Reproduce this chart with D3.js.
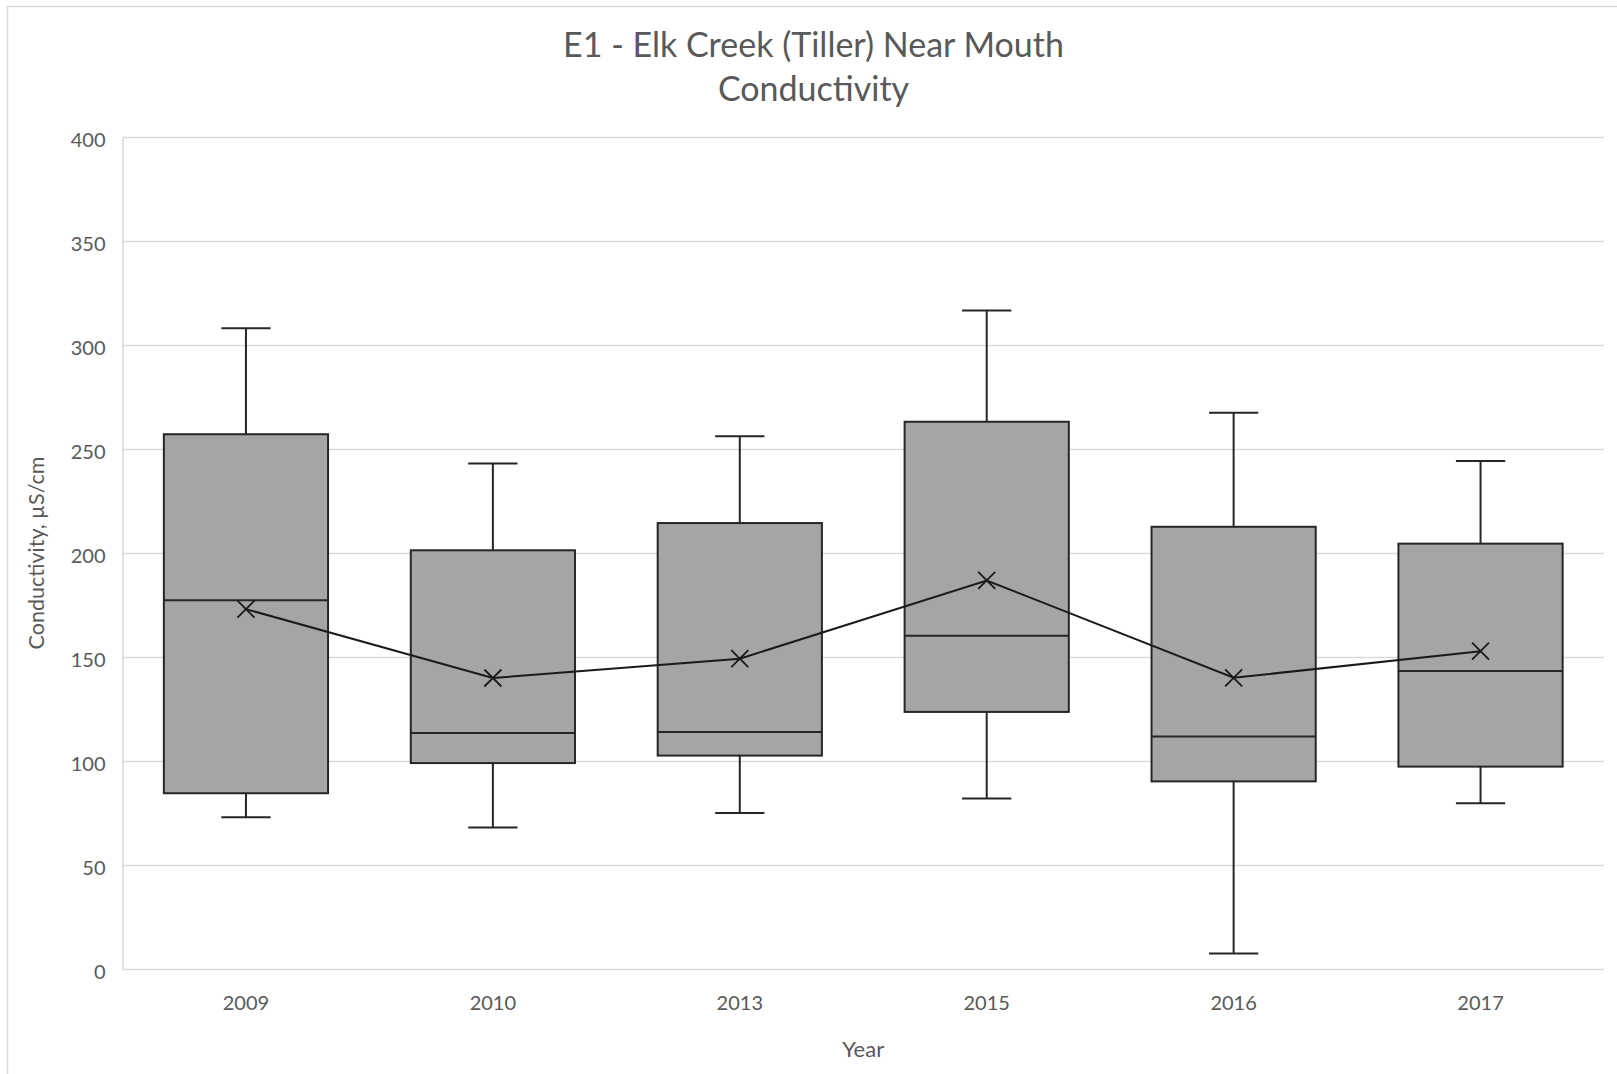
<!DOCTYPE html>
<html>
<head>
<meta charset="utf-8">
<script src="https://cdn.jsdelivr.net/npm/d3@7"></script>
<style>
  html, body { margin: 0; padding: 0; background: #fff; }
  svg { display: block; }
  text { font-family: Lato, "Open Sans", "Liberation Sans", sans-serif; fill: #595959; }
</style>
</head>
<body>
<svg id="chart" width="1617" height="1074"></svg>
<script>
// Yearly conductivity summary (µS/cm) for station E1 - Elk Creek (Tiller) Near Mouth
const years   = ["2009", "2010", "2013", "2015", "2016", "2017"];
const minVals = [73.0, 68.0, 75.0, 82.0, 7.5, 79.7];
const q1Vals  = [84.5, 99.0, 102.6, 123.6, 90.2, 97.3];
const medVals = [177.3, 113.5, 113.9, 160.2, 111.8, 143.3];
const q3Vals  = [257.1, 201.3, 214.4, 263.1, 212.6, 204.5];
const maxVals = [308.0, 243.0, 256.1, 316.6, 267.4, 244.2];
const meanVals = [173.0, 139.9, 149.2, 186.8, 140.0, 152.8];
const yTicks  = [0, 50, 100, 150, 200, 250, 300, 350, 400];

const titleLines = ["E1 - Elk Creek (Tiller) Near Mouth", "Conductivity"];
const yTitle = "Conductivity, µS/cm";
const xTitle = "Year";

const rows = years.map((y, i) => ({
  year: y, min: minVals[i], q1: q1Vals[i], med: medVals[i],
  q3: q3Vals[i], max: maxVals[i], mean: meanVals[i]
}));

const svg = d3.select("#chart");
const plot = { left: 122.5, right: 1604, top: 137, bottom: 969 };

const x = d3.scaleBand()
  .domain(years)
  .range([plot.left, plot.right])
  .paddingInner(0.335)
  .paddingOuter(0.1675);

const y = d3.scaleLinear()
  .domain([0, 400])
  .range([plot.bottom, plot.top]);

const gridColor = "#d9d9d9";
const ink = "#262626";

// Chart frame
svg.append("rect")
  .attr("x", 7.5).attr("y", 6.5)
  .attr("width", 1625).attr("height", 1090)
  .attr("fill", "none")
  .attr("stroke", gridColor)
  .attr("stroke-width", 1.5);

// Value axis with horizontal gridlines
const yAxis = svg.append("g")
  .attr("transform", `translate(${plot.left},0)`)
  .call(d3.axisLeft(y)
    .tickValues(yTicks)
    .tickSize(-(plot.right - plot.left))
    .tickSizeOuter(0)
    .tickPadding(17));
yAxis.select(".domain").attr("stroke", gridColor).attr("stroke-width", 1.5);
yAxis.selectAll(".tick line").attr("stroke", gridColor).attr("stroke-width", 1.5);
yAxis.selectAll(".tick text")
  .attr("dy", "0.45em")
  .style("font-size", "20px")
  .attr("fill", "#595959");

// Category axis labels
const xAxis = svg.append("g")
  .attr("transform", `translate(0,${plot.bottom})`)
  .call(d3.axisBottom(x).tickSize(0).tickPadding(27));
xAxis.select(".domain").remove();
xAxis.selectAll(".tick text")
  .attr("dy", "0.71em")
  .style("font-size", "20px")
  .attr("fill", "#595959");

const cx = d => x(d.year) + x.bandwidth() / 2;
const capHalf = x.bandwidth() * 0.15;

const boxes = svg.append("g").selectAll("g.box")
  .data(rows)
  .join("g")
  .attr("class", "box");

// Whiskers
boxes.append("line")
  .attr("x1", cx).attr("x2", cx)
  .attr("y1", d => y(d.max)).attr("y2", d => y(d.q3))
  .attr("stroke", ink).attr("stroke-width", 2);
boxes.append("line")
  .attr("x1", cx).attr("x2", cx)
  .attr("y1", d => y(d.q1)).attr("y2", d => y(d.min))
  .attr("stroke", ink).attr("stroke-width", 2);
boxes.append("line")
  .attr("x1", d => cx(d) - capHalf).attr("x2", d => cx(d) + capHalf)
  .attr("y1", d => y(d.max)).attr("y2", d => y(d.max))
  .attr("stroke", ink).attr("stroke-width", 2);
boxes.append("line")
  .attr("x1", d => cx(d) - capHalf).attr("x2", d => cx(d) + capHalf)
  .attr("y1", d => y(d.min)).attr("y2", d => y(d.min))
  .attr("stroke", ink).attr("stroke-width", 2);

// Interquartile boxes
boxes.append("rect")
  .attr("x", d => x(d.year))
  .attr("width", x.bandwidth())
  .attr("y", d => y(d.q3))
  .attr("height", d => y(d.q1) - y(d.q3))
  .attr("fill", "#a5a5a5")
  .attr("stroke", ink)
  .attr("stroke-width", 2);

// Medians
boxes.append("line")
  .attr("x1", d => x(d.year)).attr("x2", d => x(d.year) + x.bandwidth())
  .attr("y1", d => y(d.med)).attr("y2", d => y(d.med))
  .attr("stroke", ink).attr("stroke-width", 2);

// Mean line
svg.append("path")
  .datum(rows)
  .attr("fill", "none")
  .attr("stroke", "#1a1a1a")
  .attr("stroke-width", 2)
  .attr("d", d3.line().x(cx).y(d => y(d.mean)));

// Mean markers (x)
const m = 8.5;
svg.append("g").selectAll("path.mean")
  .data(rows)
  .join("path")
  .attr("class", "mean")
  .attr("fill", "none")
  .attr("stroke", "#1a1a1a")
  .attr("stroke-width", 1.8)
  .attr("d", d => {
    const px = cx(d), py = y(d.mean);
    return `M${px - m},${py - m}L${px + m},${py + m}M${px - m},${py + m}L${px + m},${py - m}`;
  });

// Titles
const title = svg.append("text")
  .attr("x", 813.5)
  .attr("text-anchor", "middle")
  .style("font-size", "34px");
title.selectAll("tspan")
  .data(titleLines)
  .join("tspan")
  .attr("x", 813.5)
  .attr("y", (d, i) => 57 + i * 44)
  .text(d => d);

svg.append("text")
  .attr("transform", `translate(44,553) rotate(-90)`)
  .attr("text-anchor", "middle")
  .style("font-size", "21.5px")
  .text(yTitle);

svg.append("text")
  .attr("x", (plot.left + plot.right) / 2)
  .attr("y", 1057)
  .attr("text-anchor", "middle")
  .style("font-size", "22px")
  .text(xTitle);
</script>
</body>
</html>
